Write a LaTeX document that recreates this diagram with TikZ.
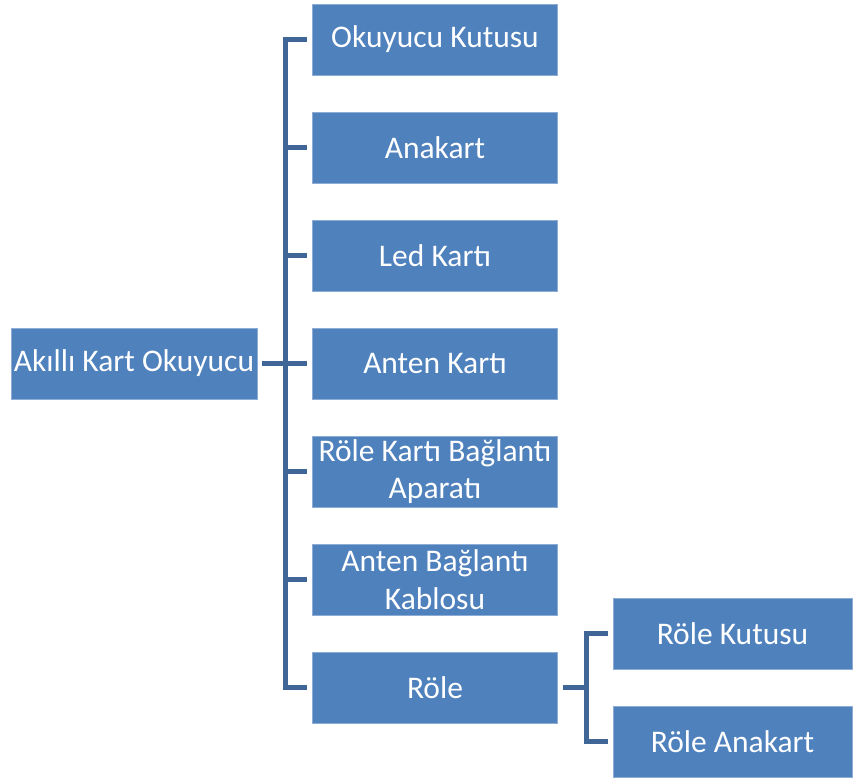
\documentclass[tikz,border=0pt]{standalone}
\usepackage{fontspec}
\setmainfont{Carlito}
\definecolor{boxblue}{HTML}{4F81BD}
\definecolor{boxedge}{HTML}{8DADD6}
\definecolor{linkblue}{HTML}{3F6697}
\begin{document}
\begin{tikzpicture}[x=1pt,y=-1pt,
  item/.style={rectangle, fill=boxblue, draw=boxedge, line width=0.8pt,
    minimum width=245, minimum height=71, inner sep=0.5pt,
    text=white, align=center,
    font=\fontsize{31.5}{37.5}\selectfont},
  subitem/.style={item, minimum width=239},
  link/.style={draw=linkblue, line width=5pt, line join=miter}]
\useasboundingbox (0,0) rectangle (853,778);

% root
\node[item, minimum width=246] (root) at (134,363.5) {Akıllı Kart Okuyucu};

% first level
\node[item] (c1) at (435,39.5)  {Okuyucu Kutusu};
\node[item] (c2) at (435,147.5) {Anakart};
\node[item] (c3) at (435,255.5) {Led Kartı};
\node[item] (c4) at (435,363.5) {Anten Kartı};
\node[item] (c5) at (435,471.5) {Röle Kartı Bağlantı\\Aparatı};
\node[item] (c6) at (435,579.5) {Anten Bağlantı\\Kablosu};
\node[item] (c7) at (435,687.5) {Röle};

% second level under Röle
\node[subitem] (d1) at (732.5,633.5) {Röle Kutusu};
\node[subitem] (d2) at (732.5,741.5) {Röle Anakart};

% bus lines
\coordinate (bus) at (285,0);
\coordinate (subbus) at (586,0);

\draw[link] ([xshift=-5]c1.west) -- (c1.west -| bus) -- (c7.west -| bus) -- ([xshift=-5]c7.west);
\draw[link] ([xshift=5]root.east) -- (root.east -| bus);
\foreach \c in {c2,c3,c4,c5,c6}
  \draw[link] (\c.west -| bus) -- ([xshift=-5]\c.west);

\draw[link] ([xshift=-5]d1.west) -- (d1.west -| subbus) -- (d2.west -| subbus) -- ([xshift=-5]d2.west);
\draw[link] ([xshift=5]c7.east) -- (c7.east -| subbus);
\end{tikzpicture}
\end{document}
